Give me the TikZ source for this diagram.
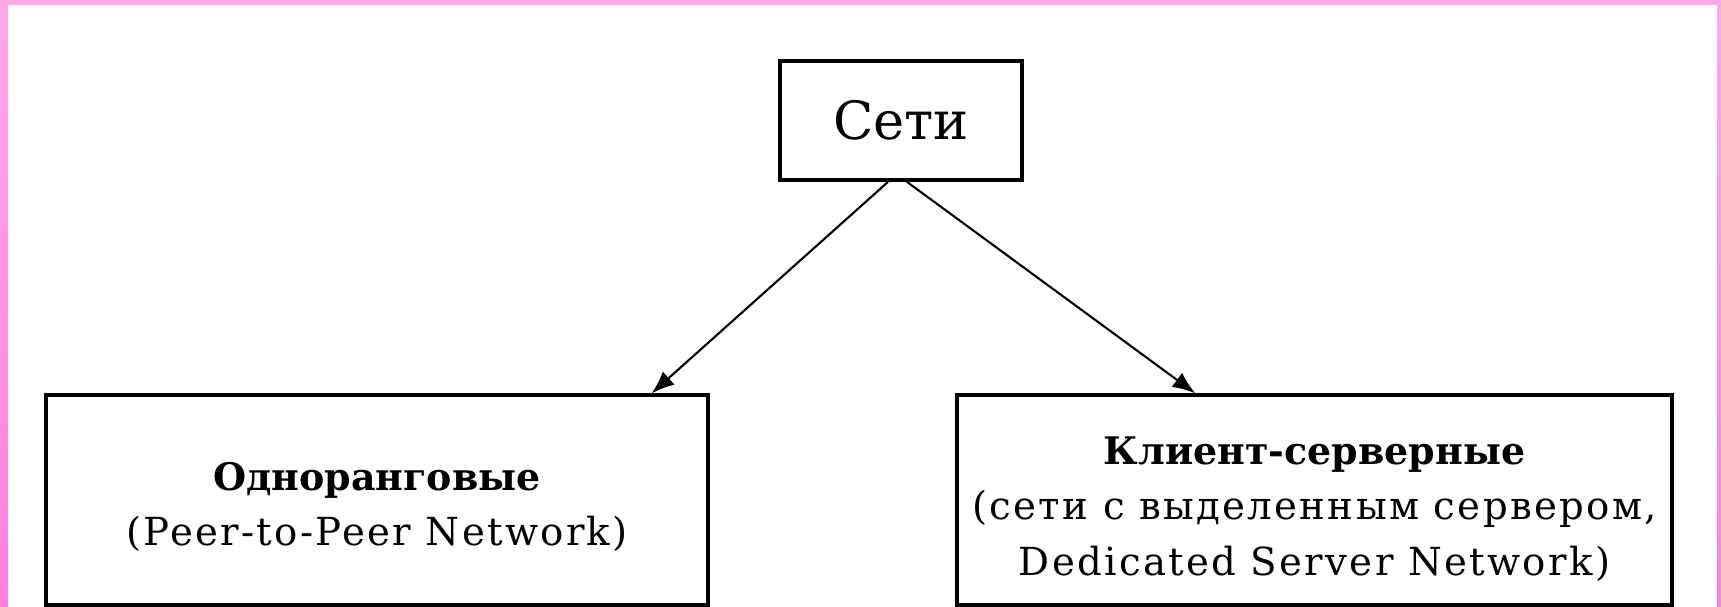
\documentclass[tikz,border=0pt]{standalone}
\usepackage{fontspec}
\setmainfont{DejaVu Serif}
\newfontfamily\widefont[LetterSpace=6]{DejaVu Serif}
\usetikzlibrary{positioning}
\usetikzlibrary{arrows.meta}
\definecolor{pinktop}{RGB}{255,168,232}
\definecolor{pinkbot}{RGB}{255,128,220}
\tikzset{
    boxtop/.style = {rectangle, line width=1.1pt, draw=black, align=center, fill=white, minimum width=2.42cm, minimum height=1.19cm, inner sep=0pt, font=\fontsize{15}{18}\selectfont},
    boxn/.style = {rectangle, line width=0.9pt, draw=black, fill=white, minimum height=2.10cm, inner sep=0pt},
    txtn/.style = {align=center, inner sep=0pt, font=\widefont\fontsize{11}{15.8}\selectfont},
    edgen/.style = {-{Latex[length=6.5pt,width=5pt]}, line width=0.6pt, black}
}
\newcommand{\hdtext}[1]{{\normalfont\bfseries\fontsize{10.8}{15.8}\selectfont #1}}
\begin{document}
\begin{tikzpicture}
% frame
\shade[top color=pinktop, bottom color=pinkbot] (0,0) rectangle (17.21,6.07);
\fill[white] (0.08,0) rectangle (17.17,6.02);
%
\node[boxtop] at (9.01,4.865) (seti) {Сети};
\node[boxn, minimum width=6.62cm] at (3.77,1.07) (odn) {};
\node[boxn, minimum width=7.15cm] at (13.145,1.07) (kls) {};
\node[txtn] at ([yshift=-0.07cm]odn.center) (odnt) {\hdtext{Одноранговые}\\(Peer-to-Peer Network)};
\node[txtn] at ([yshift=-0.09cm]kls.center) (klst) {\hdtext{Клиент-серверные}\\(сети с выделенным сервером,\\Dedicated Server Network)};
%
\draw[edgen] ([xshift=-0.13cm]seti.south) -- ([xshift=-0.58cm]odn.north east);
\draw[edgen] ([xshift=0.06cm]seti.south) -- ([xshift=2.40cm]kls.north west);

\path[use as bounding box] (0,0) rectangle (17.21,6.07);

\end{tikzpicture}
\end{document}
